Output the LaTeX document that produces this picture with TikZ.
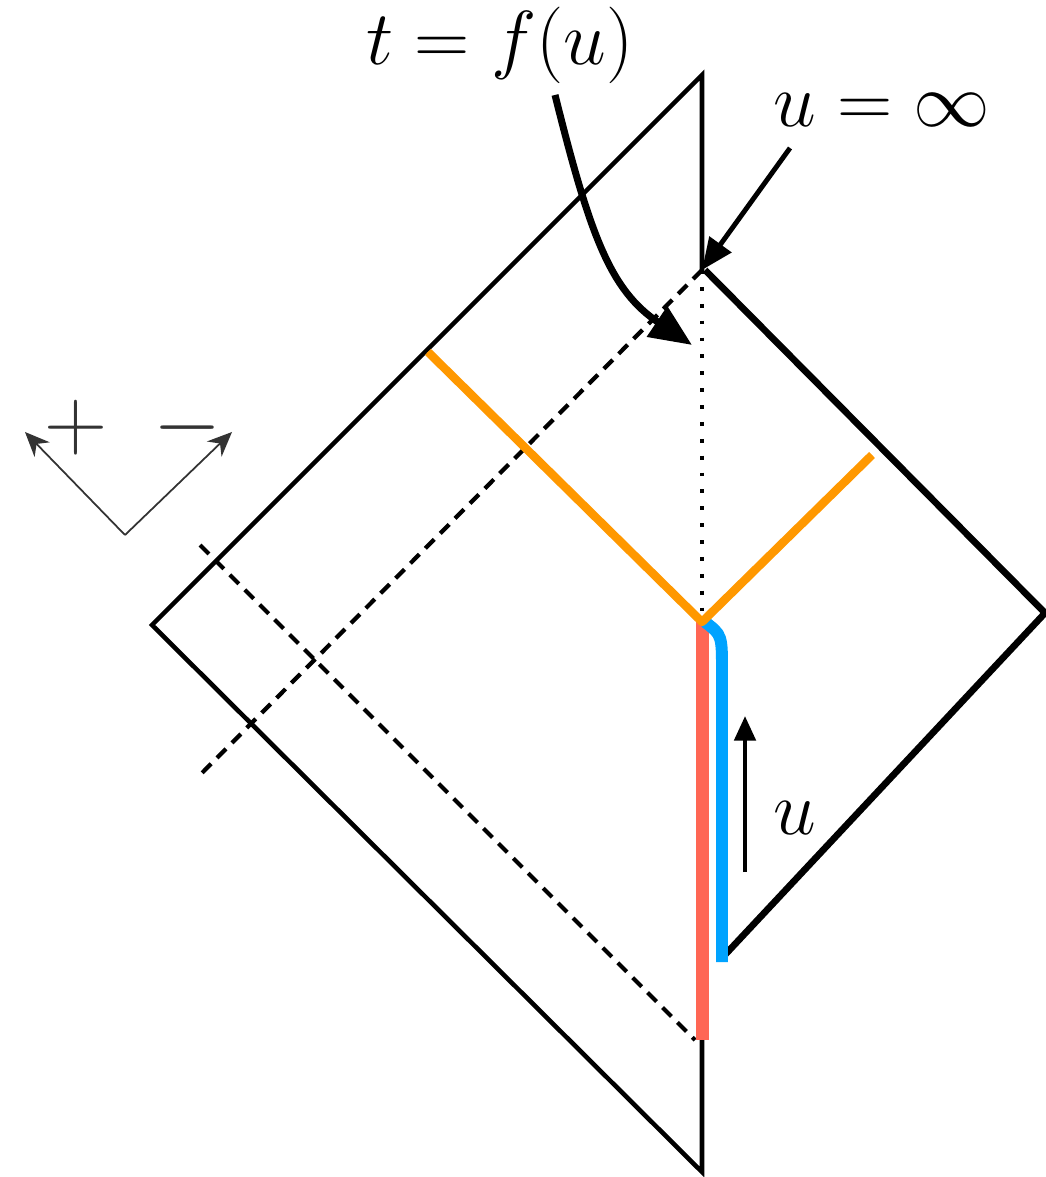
\documentclass[tikz,border=0pt]{standalone}
\usepackage{amsmath}
\usepackage{tikz}
\usetikzlibrary{arrows.meta}
\usetikzlibrary{decorations.pathmorphing}

\definecolor{redline}{RGB}{255,102,84}
\definecolor{blueline}{RGB}{0,163,255}
\definecolor{orangeline}{RGB}{255,152,0}

\tikzset{
edge/.style = {line width=1.3pt, line cap=round, line join=miter},
thickedge/.style = {line width=1.9pt, line join=miter},
dashedge/.style = {line width=1.2pt, dash pattern=on 3.6pt off 2.4pt},
dotedge/.style = {line width=1.2pt, dash pattern=on 1.1pt off 3.7pt},
bigtext/.style = {font=\fontsize{20.74}{25}\selectfont, inner sep=0pt, scale=1.05},
rough/.style = {decorate, decoration={random steps, segment length=3pt, amplitude=0.6pt}}
}
\newcommand{\pt}[2]{\coordinate (#1) at (#2);}

\begin{document}
\begin{tikzpicture}[x=0.01cm, y=-0.01cm]
    \useasboundingbox (0,0) rectangle (1045,1177);

    % left wedge
    \pt{top}{702,75};
    \pt{left}{152,625};
    \pt{bot}{702,1172};
    \pt{hor}{702,270};
    \pt{low}{702,1040};
    \pt{mid}{702,622};

    % right diamond
    \pt{rtop}{705,270};
    \pt{rright}{1045,613};
    \pt{rbot}{722,958};

    \draw[edge] (hor) -- (top) -- (left) -- (bot) -- (low);
    \draw[thickedge] (rtop) -- (rright) -- (rbot);

    % null lines
    \pt{da}{200,775};
    \pt{db}{200,545};
    \pt{dc}{695,1040};
    \draw[dashedge] (hor) -- (da);
    \draw[dashedge] (db) -- (dc);
    \draw[dotedge] (hor) -- (mid);

    % boundary trajectories
    \draw[redline, line width=3.7pt] (mid) -- (low);
    \pt{bstart}{705,622};
    \pt{bend}{722,962};
    \draw[blueline, line width=3.4pt] (bstart) .. controls (722,635) .. (722,672) -- (bend);

    % shock waves
    \pt{oa}{428,352};
    \pt{ob}{872,455};
    \draw[orangeline, line width=2.4pt, line join=round] (oa) -- (mid) -- (ob);
    \draw[orangeline, line width=1pt, rough] (oa) -- (mid) -- (ob);

    % u arrow
    \pt{ua}{745,872};
    \pt{ub}{745,716};
    \draw[line width=1.3pt, -{Triangle[length=7pt, width=6pt]}] (ua) -- (ub);
    \node[bigtext] (ulab) at (795,818) {$u$};

    % labels
    \node[bigtext] (tlab) at (500,45) {$t = f(u)$};
    \pt{tstart}{555,95};
    \pt{tend}{692,345};
    \draw[line width=2pt, -{Triangle[length=12pt, width=10pt]}] (tstart) .. controls (590,235) and (610,290) .. (tend);

    \node[bigtext] (inflab) at (882,110) {$u = \infty$};
    \pt{istart}{790,148};
    \draw[line width=1.4pt, -{Triangle[length=9pt, width=7.5pt]}] (istart) -- (hor);

    % light-cone axes
    \pt{ax}{125,535};
    \pt{axl}{25,432};
    \pt{axr}{232,432};
    \draw[black!80, line width=0.5pt, -{Stealth[length=7pt, width=6pt]}] (ax) -- (axl);
    \draw[black!80, line width=0.5pt, -{Stealth[length=7pt, width=6pt]}] (ax) -- (axr);
    \node[font=\fontsize{24.88}{28}\selectfont, black!80] (plus) at (76,428) {$+$};
    \node[font=\fontsize{24.88}{28}\selectfont, black!80] (minus) at (188,428) {$-$};
\end{tikzpicture}
\end{document}
